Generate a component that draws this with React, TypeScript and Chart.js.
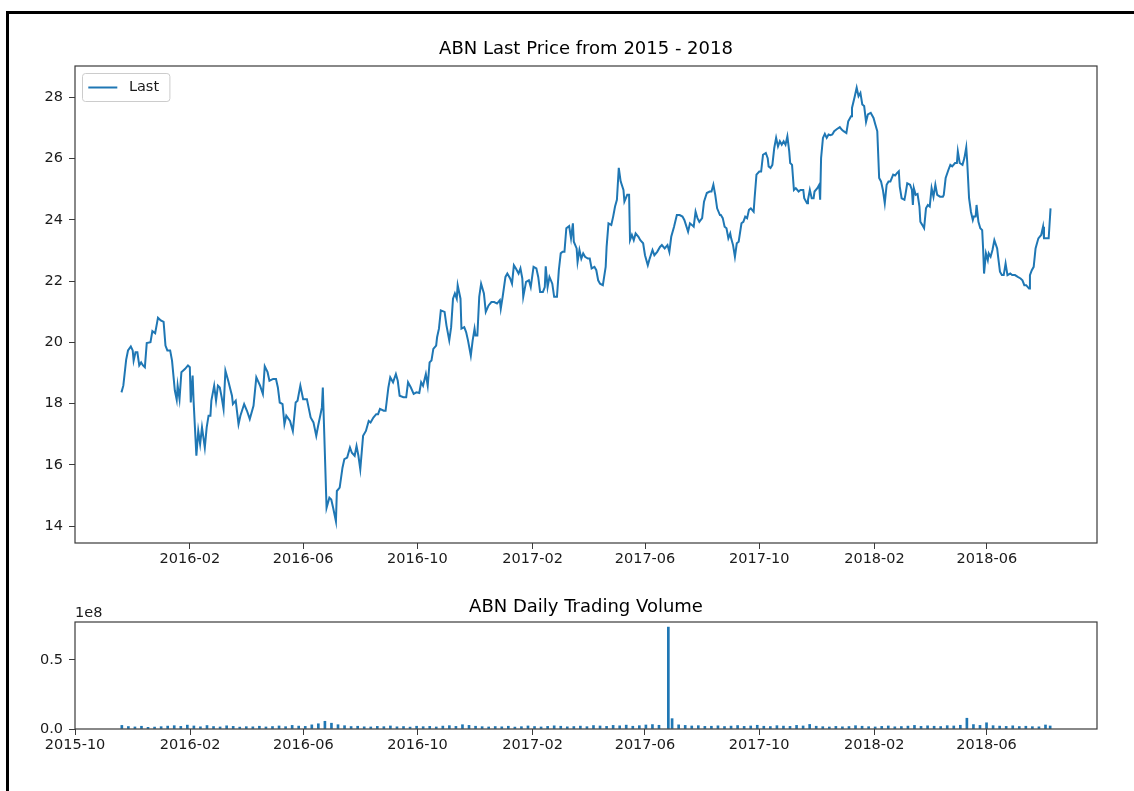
import { useEffect, useRef } from "react";
import { Chart, registerables } from "chart.js";

Chart.register(...registerables);

// ---------- data ----------
const BASE_DATE = "2015-10-01"; // day 0 for all day offsets below

const xTickLabels = ["2015-10", "2016-02", "2016-06", "2016-10", "2017-02", "2017-06", "2017-10", "2018-02", "2018-06"];
const priceYTicks = [14, 16, 18, 20, 22, 24, 26, 28];
const volumeYTicks = [0, 0.5e8];

// days since BASE_DATE
const priceDays = [
  50, 52, 55, 57, 60, 62, 63, 65, 67, 69, 71, 73, 75, 77, 81, 83, 86, 89, 92, 95,
  97, 99, 102, 104, 107, 109, 110, 112, 114, 118, 121, 123, 124, 126, 127, 130, 132, 134, 136, 139,
  141, 143, 145, 146, 149, 151, 153, 155, 157, 159, 161, 164, 168, 169, 172, 175, 177, 181, 184, 187,
  191, 194, 198, 201, 203, 206, 208, 212, 215, 217, 219, 222, 224, 226, 230, 233, 236, 238, 241, 244,
  248, 252, 255, 258, 260, 263, 264, 265, 269, 272, 274, 276, 279, 280, 283, 286, 288, 291, 294, 296,
  299, 301, 303, 305, 308, 311, 314, 316, 319, 322, 324, 326, 330, 332, 335, 337, 340, 343, 345, 347,
  351, 354, 356, 359, 362, 365, 368, 370, 372, 375, 377, 379, 381, 383, 386, 387, 389, 391, 395, 397,
  400, 402, 404, 406, 408, 409, 412, 413, 416, 418, 420, 423, 425, 427, 428, 430, 432, 434, 437, 439,
  442, 445, 448, 451, 454, 455, 457, 460, 462, 465, 467, 469, 471, 474, 476, 478, 479, 482, 485, 487,
  490, 493, 495, 497, 500, 502, 503, 505, 507, 510, 512, 515, 517, 519, 521, 523, 525, 528, 530, 532,
  533, 536, 537, 539, 541, 543, 545, 548, 550, 552, 555, 557, 559, 561, 564, 567, 568, 570, 573, 575,
  577, 579, 581, 583, 586, 587, 590, 592, 593, 595, 597, 599, 602, 604, 607, 609, 612, 614, 617, 619,
  622, 625, 627, 630, 633, 635, 637, 640, 643, 646, 649, 651, 655, 657, 659, 661, 663, 665, 667, 670,
  672, 675, 678, 680, 682, 684, 686, 689, 690, 692, 694, 696, 698, 700, 701, 703, 705, 707, 709, 712,
  714, 716, 718, 720, 722, 725, 726, 728, 731, 733, 735, 738, 740, 741, 743, 745, 747, 749, 751, 753,
  755, 757, 759, 761, 763, 764, 766, 768, 770, 773, 775, 778, 779, 782, 783, 785, 787, 789, 790, 793,
  795, 796, 797, 799, 801, 803, 805, 807, 809, 811, 814, 817, 819, 821, 824, 826, 829, 830, 833, 835,
  837, 839, 841, 843, 845, 847, 850, 853, 855, 857, 859, 861, 863, 865, 867, 869, 871, 874, 876, 878,
  880, 881, 883, 886, 887, 889, 892, 894, 895, 896, 898, 900, 902, 903, 905, 907, 909, 911, 913, 915,
  917, 919, 921, 924, 927, 928, 930, 933, 935, 937, 940, 942, 943, 945, 948, 950, 952, 953, 955, 957,
  959, 960, 962, 963, 965, 967, 969, 970, 971, 973, 975, 976, 978, 980, 982, 985, 986, 988, 990, 992,
  994, 996, 999, 1001, 1004, 1007, 1010, 1012, 1014, 1016, 1019, 1020, 1022, 1024, 1026, 1027, 1029, 1032, 1034, 1035,
  1038, 1040, 1042,
];

const priceLast = [
  18.37, 18.59, 19.43, 19.74, 19.87, 19.74, 19.41, 19.68, 19.68, 19.25, 19.35, 19.25, 19.19, 19.98, 20.01, 20.37, 20.3, 20.81, 20.72, 20.67,
  19.9, 19.74, 19.74, 19.41, 18.43, 18.13, 18.59, 18.15, 19.03, 19.14, 19.25, 19.19, 18.04, 18.92, 18.1, 16.3, 17.11, 16.68, 17.23, 16.57,
  17.23, 17.61, 17.61, 18.1, 18.59, 18.1, 18.59, 18.53, 18.21, 17.83, 19.08, 18.75, 18.26, 17.99, 18.1, 17.33, 17.61, 17.99, 17.77, 17.5,
  17.93, 18.86, 18.59, 18.32, 19.22, 19.03, 18.75, 18.81, 18.81, 18.53, 18.04, 17.99, 17.33, 17.61, 17.44, 17.11, 18.04, 18.1, 18.59, 18.15,
  18.15, 17.55, 17.39, 16.95, 17.28, 17.72, 17.88, 18.53, 14.6, 14.93, 14.87, 14.6, 14.16, 15.15, 15.26, 15.91, 16.19, 16.24, 16.57, 16.4,
  16.3, 16.62, 16.3, 15.86, 16.95, 17.11, 17.44, 17.39, 17.55, 17.66, 17.66, 17.83, 17.77, 17.77, 18.53, 18.86, 18.7, 18.97, 18.75, 18.26,
  18.21, 18.21, 18.7, 18.53, 18.32, 18.37, 18.35, 18.7, 18.59, 18.97, 18.59, 19.35, 19.41, 19.79, 19.9, 20.17, 20.45, 21.05, 21.0, 20.56,
  20.07, 20.5, 21.43, 21.6, 21.43, 21.87, 21.43, 20.45, 20.5, 20.34, 20.07, 19.57, 20.07, 20.45, 20.23, 20.23, 21.49, 21.92, 21.6, 21.0,
  21.21, 21.32, 21.32, 21.27, 21.38, 21.1, 21.49, 22.14, 22.25, 22.09, 21.92, 22.52, 22.42, 22.25, 22.42, 22.09, 21.49, 21.98, 22.03, 21.81,
  22.47, 22.42, 22.14, 21.65, 21.65, 21.81, 22.49, 21.81, 22.14, 21.92, 21.49, 21.49, 22.36, 22.91, 22.96, 22.96, 23.73, 23.8, 23.4, 23.89,
  23.29, 23.07, 22.63, 23.02, 22.74, 22.91, 22.8, 22.74, 22.74, 22.42, 22.47, 22.36, 22.03, 21.92, 21.87, 22.47, 23.12, 23.89, 23.84, 24.11,
  24.44, 24.66, 25.7, 25.26, 24.98, 24.6, 24.82, 24.82, 23.34, 23.51, 23.34, 23.56, 23.45, 23.34, 23.24, 22.85, 22.52, 22.74, 23.02, 22.85,
  22.96, 23.12, 23.18, 23.07, 23.18, 22.96, 23.45, 23.78, 24.16, 24.16, 24.11, 24.0, 23.62, 23.89, 23.84, 23.78, 24.27, 24.06, 23.94, 24.06,
  24.6, 24.88, 24.93, 24.93, 25.15, 24.82, 24.38, 24.16, 24.16, 24.06, 23.78, 23.73, 23.4, 23.56, 23.4, 23.18, 22.8, 23.24, 23.29, 23.89,
  23.94, 24.11, 24.06, 24.33, 24.38, 24.27, 24.71, 25.48, 25.58, 25.58, 26.13, 26.19, 26.02, 25.75, 25.7, 25.8, 26.35, 26.68, 26.4, 26.57,
  26.46, 26.57, 26.46, 26.73, 26.24, 25.86, 25.8, 24.98, 25.04, 24.93, 24.98, 24.98, 24.71, 24.55, 24.66, 24.98, 24.71, 24.71, 24.93, 25.04,
  25.15, 24.66, 26.02, 26.68, 26.81, 26.68, 26.79, 26.77, 26.79, 26.9, 26.97, 27.03, 26.95, 26.9, 26.84, 27.22, 27.39, 27.66, 28.04, 28.32,
  28.04, 28.15, 27.77, 27.72, 27.2, 27.45, 27.5, 27.33, 27.11, 26.9, 25.37, 25.26, 24.98, 24.55, 25.15, 25.26, 25.26, 25.48, 25.45, 25.53,
  25.59, 25.09, 24.71, 24.66, 24.82, 25.2, 25.15, 24.98, 24.49, 25.04, 24.82, 24.85, 24.44, 23.94, 23.84, 23.73, 24.38, 24.49, 24.44, 25.04,
  24.76, 25.15, 24.82, 24.76, 24.76, 24.82, 25.37, 25.64, 25.8, 25.75, 25.86, 25.86, 26.24, 25.86, 25.8, 26.02, 26.37, 25.91, 24.71, 24.27,
  24.0, 24.11, 24.11, 24.49, 23.94, 23.73, 23.67, 23.07, 22.25, 22.91, 22.69, 22.91, 22.8, 23.02, 23.34, 23.07, 22.8, 22.31, 22.2, 22.2,
  22.58, 22.2, 22.25, 22.2, 22.2, 22.14, 22.09, 22.03, 21.87, 21.87, 21.76, 22.2, 22.36, 22.47, 23.07, 23.18, 23.4, 23.51, 23.78, 23.4,
  23.4, 23.4, 24.38,
];

// days since BASE_DATE (weekly samples)
const volumeDays = [
  50, 57, 64, 71, 78, 85, 92, 99, 106, 113,
  120, 127, 134, 141, 148, 155, 162, 169, 176, 183,
  190, 197, 204, 211, 218, 225, 232, 239, 246, 253,
  260, 267, 274, 281, 288, 295, 302, 309, 316, 323,
  330, 337, 344, 351, 358, 365, 372, 379, 386, 393,
  400, 407, 414, 421, 428, 435, 442, 449, 456, 463,
  470, 477, 484, 491, 498, 505, 512, 519, 526, 533,
  540, 547, 554, 561, 568, 575, 582, 589, 596, 603,
  610, 617, 624, 634, 638, 645, 652, 659, 666, 673,
  680, 687, 694, 701, 708, 715, 722, 729, 736, 743,
  750, 757, 764, 771, 778, 785, 792, 799, 806, 813,
  820, 827, 834, 841, 848, 855, 862, 869, 876, 883,
  890, 897, 904, 911, 918, 925, 932, 939, 946, 953,
  960, 967, 974, 981, 988, 995, 1002, 1009, 1016, 1023,
  1030, 1037, 1042,
];

// shares traded, millions
const volumeMillions = [
  2.6, 1.8, 1.5, 2.0, 1.2, 1.4, 1.7, 2.1, 2.4, 1.9,
  2.8, 2.2, 1.6, 2.5, 1.8, 1.5, 2.3, 1.9, 1.4, 1.7,
  1.6, 2.0, 1.5, 1.8, 2.2, 1.7, 2.6, 2.1, 1.9, 3.0,
  3.8, 5.6, 4.2, 3.1, 2.4, 1.8, 2.0, 1.6, 1.5, 1.9,
  1.7, 2.2, 1.6, 1.8, 1.4, 2.0, 1.7, 1.9, 1.5, 2.1,
  2.4, 1.9, 3.1, 2.6, 2.0, 1.7, 1.5, 1.8, 1.6, 2.0,
  1.4, 1.7, 2.2, 1.8, 1.5, 1.9, 2.3, 2.0, 1.6, 1.8,
  2.1, 1.7, 2.5, 2.2, 1.9, 2.6, 2.3, 2.8, 2.0, 2.4,
  2.9, 3.2, 2.7, 73.8, 7.5, 3.0, 2.6, 2.2, 2.4, 1.9,
  2.0, 2.3, 1.8, 2.1, 2.5, 1.9, 2.2, 2.7, 2.0, 1.8,
  2.4, 2.1, 1.9, 2.6, 2.2, 3.3, 2.0, 1.7, 1.5, 1.9,
  1.6, 1.8, 2.4, 2.0, 1.7, 1.5, 1.9, 2.2, 1.6, 1.8,
  2.1, 2.6, 1.9, 2.3, 2.0, 1.8, 2.4, 2.2, 2.7, 7.8,
  3.2, 2.6, 4.5, 2.4, 2.1, 1.9, 2.3, 1.8, 2.0, 1.7,
  1.6, 2.9, 2.2,
];

// ---------- helpers ----------
const FONT = '"DejaVu Sans", "Liberation Sans", sans-serif';
const BLUE = "#1f77b4";
const TEXT = "#1a1a1a";
const SPINE = "#3a3a3a";
const DAY_MS = 86400000;
const baseMs = Date.parse(BASE_DATE + "T00:00:00Z");
const monthLabelToDay = (s: string) => (Date.parse(s + "-01T00:00:00Z") - baseMs) / DAY_MS;
const xTickDays = xTickLabels.map(monthLabelToDay);

const tickFont = { family: FONT, size: 14.5 };
const titleFont = { family: FONT, size: 18, weight: "normal" as const };

function xLimits(pad: number) {
  const lo = Math.min(...priceDays) - pad;
  const hi = Math.max(...priceDays) + pad;
  const m = (hi - lo) * 0.05;
  return { min: lo - m, max: hi + m };
}

function xScale(min: number, max: number, height: number) {
  return {
    type: "linear" as const,
    min,
    max,
    offset: false,
    afterBuildTicks: (s: any) => {
      s.ticks = xTickDays.filter((d) => d >= s.min && d <= s.max).map((v) => ({ value: v }));
    },
    afterFit: (s: any) => {
      s.height = height;
    },
    grid: { display: true, offset: false, drawOnChartArea: false, drawTicks: true, tickLength: 6, color: SPINE, lineWidth: 1 },
    border: { display: false },
    ticks: {
      font: tickFont,
      color: TEXT,
      padding: 2,
      maxRotation: 0,
      autoSkip: false,
      callback: (v: any) => {
        const i = xTickDays.findIndex((d) => Math.abs(d - Number(v)) < 0.01);
        return i >= 0 ? xTickLabels[i] : "";
      },
    },
  };
}

function yScale(min: number, max: number, ticks: number[], fmt: (v: number) => string) {
  return {
    type: "linear" as const,
    min,
    max,
    afterBuildTicks: (s: any) => {
      s.ticks = ticks.filter((t) => t >= s.min && t <= s.max).map((v) => ({ value: v }));
    },
    afterFit: (s: any) => {
      s.width = 75;
    },
    grid: { display: true, drawOnChartArea: false, drawTicks: true, tickLength: 6, color: SPINE, lineWidth: 1 },
    border: { display: false },
    ticks: { font: tickFont, color: TEXT, padding: 6, autoSkip: false, callback: (v: any) => fmt(Number(v)) },
  };
}

const framePlugin = {
  id: "frame",
  afterDraw(chart: any) {
    const { ctx, chartArea: a } = chart;
    ctx.save();
    ctx.strokeStyle = SPINE;
    ctx.lineWidth = 1.2;
    ctx.strokeRect(a.left, a.top, a.right - a.left, a.bottom - a.top);
    ctx.restore();
  },
};

const legendPlugin = {
  id: "mplLegend",
  afterDatasetsDraw(chart: any) {
    const { ctx, chartArea: a } = chart;
    const label = chart.data.datasets[0].label;
    const x = a.left + 7.5;
    const y = a.top + 7.5;
    ctx.save();
    ctx.font = `14.5px ${FONT}`;
    const tw = ctx.measureText(label).width;
    const w = 5.8 + 29 + 11.6 + tw + 5.8 + 5;
    const h = 28;
    const r = 3;
    ctx.beginPath();
    ctx.moveTo(x + r, y);
    ctx.lineTo(x + w - r, y);
    ctx.quadraticCurveTo(x + w, y, x + w, y + r);
    ctx.lineTo(x + w, y + h - r);
    ctx.quadraticCurveTo(x + w, y + h, x + w - r, y + h);
    ctx.lineTo(x + r, y + h);
    ctx.quadraticCurveTo(x, y + h, x, y + h - r);
    ctx.lineTo(x, y + r);
    ctx.quadraticCurveTo(x, y, x + r, y);
    ctx.closePath();
    ctx.fillStyle = "rgba(255,255,255,0.8)";
    ctx.fill();
    ctx.strokeStyle = "#cccccc";
    ctx.lineWidth = 1;
    ctx.stroke();
    const cy = y + h / 2;
    ctx.strokeStyle = BLUE;
    ctx.lineWidth = 2;
    ctx.beginPath();
    ctx.moveTo(x + 5.8, cy);
    ctx.lineTo(x + 5.8 + 29, cy);
    ctx.stroke();
    ctx.fillStyle = TEXT;
    ctx.textBaseline = "middle";
    ctx.textAlign = "left";
    ctx.fillText(label, x + 5.8 + 29 + 11.6, cy);
    ctx.restore();
  },
};

const offsetTextPlugin = {
  id: "offsetText",
  afterDraw(chart: any) {
    const { ctx, chartArea: a } = chart;
    ctx.save();
    ctx.font = `14.5px ${FONT}`;
    ctx.fillStyle = TEXT;
    ctx.textAlign = "left";
    ctx.textBaseline = "bottom";
    ctx.fillText("1e8", a.left, a.top - 2);
    ctx.restore();
  },
};

export default function App() {
  const priceRef = useRef<HTMLCanvasElement>(null);
  const volRef = useRef<HTMLCanvasElement>(null);

  useEffect(() => {
    const pLo = Math.min(...priceLast);
    const pHi = Math.max(...priceLast);
    const pm = (pHi - pLo) * 0.05;
    const xl1 = xLimits(0);
    const xl2 = xLimits(0.4);
    const vHi = Math.max(...volumeMillions) * 1e6 * 1.05;

    const c1 = new Chart(priceRef.current as HTMLCanvasElement, {
      type: "line",
      data: {
        datasets: [
          {
            label: "Last",
            data: priceDays.map((d, i) => ({ x: d, y: priceLast[i] })),
            borderColor: BLUE,
            backgroundColor: BLUE,
            borderWidth: 2,
            pointRadius: 0,
            tension: 0,
            fill: false,
          },
        ],
      },
      options: {
        animation: false,
        responsive: false,
        maintainAspectRatio: false,
        events: [],
        layout: { padding: { left: 0, right: 37, top: 0, bottom: 0 } },
        plugins: {
          legend: { display: false },
          tooltip: { enabled: false },
          title: {
            display: true,
            fullSize: false,
            text: "ABN Last Price from 2015 - 2018",
            font: titleFont,
            color: "#000",
            padding: { top: 39, bottom: 5.4 },
          },
        },
        scales: {
          x: xScale(xl1.min, xl1.max, 37) as any,
          y: yScale(pLo - pm, pHi + pm, priceYTicks, (v) => String(v)) as any,
        },
      },
      plugins: [framePlugin, legendPlugin],
    });

    const c2 = new Chart(volRef.current as HTMLCanvasElement, {
      type: "bar",
      data: {
        datasets: [
          {
            label: "Volume",
            data: volumeDays.map((d, i) => ({ x: d, y: volumeMillions[i] * 1e6 })),
            backgroundColor: BLUE,
            borderWidth: 0,
            barThickness: 2,
          },
        ],
      },
      options: {
        animation: false,
        responsive: false,
        maintainAspectRatio: false,
        events: [],
        layout: { padding: { left: 0, right: 37, top: 0, bottom: 0 } },
        plugins: {
          legend: { display: false },
          tooltip: { enabled: false },
          title: {
            display: true,
            fullSize: false,
            text: "ABN Daily Trading Volume",
            font: titleFont,
            color: "#000",
            padding: { top: 17, bottom: 3.4 },
          },
        },
        scales: {
          x: xScale(xl2.min, xl2.max, 62) as any,
          y: yScale(0, vHi, volumeYTicks, (v) => (v / 1e8).toFixed(1)) as any,
        },
      },
      plugins: [framePlugin, offsetTextPlugin],
    });

    return () => {
      c1.destroy();
      c2.destroy();
    };
  }, []);

  return (
    <div style={{ position: "absolute", left: 0, top: 0, width: 1134, height: 791, background: "#fff", overflow: "hidden" }}>
      <canvas ref={priceRef} width={1134} height={580} style={{ position: "absolute", left: 0, top: 0, width: 1134, height: 580 }} />
      <canvas ref={volRef} width={1134} height={211} style={{ position: "absolute", left: 0, top: 580, width: 1134, height: 211 }} />
      <div
        style={{
          position: "absolute",
          left: 6,
          top: 11,
          width: 1200,
          height: 900,
          borderTop: "3px solid #000",
          borderLeft: "3px solid #000",
          pointerEvents: "none",
        }}
      />
    </div>
  );
}
